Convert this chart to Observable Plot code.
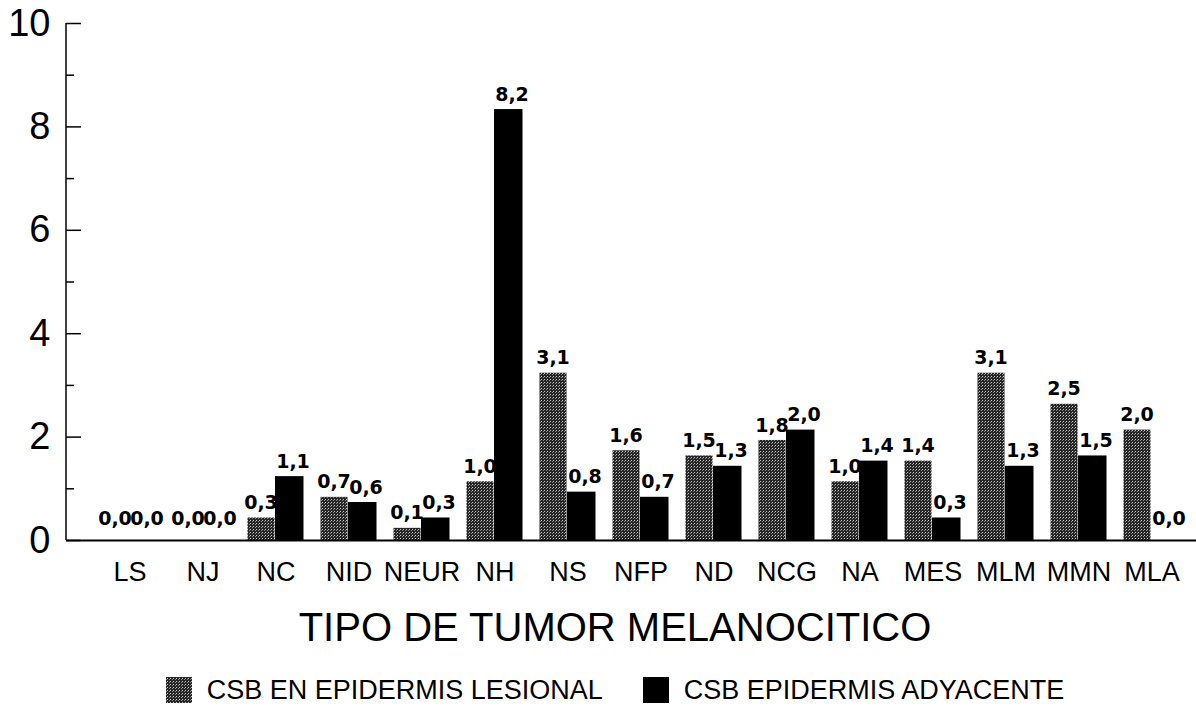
<!DOCTYPE html>
<html><head><meta charset="utf-8">
<script src="https://cdn.jsdelivr.net/npm/d3@7"></script>
<script src="https://cdn.jsdelivr.net/npm/@observablehq/plot@0.6"></script>
<style>
body{margin:0;background:#fff;font-family:"Liberation Sans",Arial,sans-serif;color:#000;}
#wrap{width:1196px;position:relative;}
#title{margin-left:66px;width:1098px;text-align:center;font-size:40px;line-height:44px;margin-top:5px;}
#legend{margin-left:66px;width:1098px;display:flex;justify-content:center;align-items:center;font-size:27px;line-height:30px;margin-top:26px;}
.sw{display:inline-block;width:26px;height:26px;margin-right:15px;}
.item{display:flex;align-items:center;margin:0 20px;}
</style></head><body><div id="wrap"></div>
<script>
const categories = ["LS","NJ","NC","NID","NEUR","NH","NS","NFP","ND","NCG","NA","MES","MLM","MMN","MLA"];
const series = ["CSB EN EPIDERMIS LESIONAL","CSB EPIDERMIS ADYACENTE"];
const lesional  = [0.0,0.0,0.3,0.7,0.1,1.0,3.1,1.6,1.5,1.8,1.0,1.4,3.1,2.5,2.0];
const adyacente = [0.0,0.0,1.1,0.6,0.3,8.2,0.8,0.7,1.3,2.0,1.4,0.3,1.3,1.5,0.0];
const yTicks = [0,2,4,6,8,10];
const yMinorTicks = [1,3,5,7,9];
const xTitle = "TIPO DE TUMOR MELANOCITICO";

const rowsL = categories.map((c, i) => ({cat: c, serie: series[0], value: lesional[i]}));
const rowsA = categories.map((c, i) => ({cat: c, serie: series[1], value: adyacente[i]}));
const fmt = v => d3.format(".1f")(v).replace(".", ",");

const patternSvg = `<pattern id="stipple" width="3" height="3" patternUnits="userSpaceOnUse"><rect width="3" height="3" fill="#262626"/><rect x="1" y="1" width="1" height="1" fill="#c8c8c8"/><rect x="0" y="2" width="1" height="1" fill="#8a8a8a"/></pattern>`;
const defs = () => {
  const d = d3.create("svg:defs");
  d.html(patternSvg);
  return d.node();
};
const labelStyle = {fontSize: 19, fontWeight: 900, fontFamily: "'DejaVu Sans', sans-serif", fill: "#000", letterSpacing: 2.5, dy: -22};

const chart = Plot.plot({
  width: 1196, height: 600,
  marginTop: 23, marginLeft: 66, marginRight: 0, marginBottom: 60,
  style: {fontFamily: "'Liberation Sans', Arial, sans-serif", color: "#000", background: "#fff"},
  x: {domain: categories, paddingInner: 0, paddingOuter: 0.156, align: 0.78, axis: null},
  y: {domain: [0, 10], axis: null},
  color: {domain: series, range: ["url(#stipple)", "#000"]},
  marks: [
    defs,
    Plot.axisX({tickSize: 0, tickPadding: 21, fontSize: 27, label: null}),
    Plot.axisY({ticks: yTicks, tickSize: 0, tickPadding: 16, fontSize: 38, label: null}),
    Plot.axisY({ticks: yTicks, tickSize: 15, dx: 15, tickFormat: () => "", label: null, strokeWidth: 1.5}),
    Plot.axisY({ticks: yMinorTicks, tickSize: 8, dx: 8, tickFormat: () => "", label: null, strokeWidth: 1.5}),
    Plot.barY(rowsL.filter(d => d.value > 0), {x: "cat", y: "value", fill: "serie", insetTop: -7, insetLeft: 8.5, insetRight: 37.5}),
    Plot.barY(rowsA.filter(d => d.value > 0), {x: "cat", y: "value", fill: "serie", insetTop: -7, insetLeft: 36, insetRight: 8.5}),
    Plot.ruleY([0], {strokeWidth: 2}),
    Plot.text(rowsL, {x: "cat", y: "value", text: d => fmt(d.value), ...labelStyle, dx: -15}),
    Plot.text(rowsA, {x: "cat", y: "value", text: d => fmt(d.value), ...labelStyle, dx: 17})
  ]
});
// vertical y-axis line, placed with the chart's own scales
const ys = chart.scale("y"), xs = chart.scale("x");
d3.select(chart).append("line")
  .attr("x1", xs.range[0]).attr("x2", xs.range[0])
  .attr("y1", ys.apply(ys.domain[0])).attr("y2", ys.apply(ys.domain[1]))
  .attr("stroke", "#000").attr("stroke-width", 1.5);

const wrap = document.getElementById("wrap");
wrap.appendChild(chart);
const t = document.createElement("div");
t.id = "title"; t.textContent = xTitle;
wrap.appendChild(t);
const lg = document.createElement("div");
lg.id = "legend";
series.forEach((s, i) => {
  const it = document.createElement("span"); it.className = "item";
  const sw = document.createElementNS("http://www.w3.org/2000/svg", "svg");
  sw.setAttribute("class", "sw"); sw.setAttribute("width", 26); sw.setAttribute("height", 26);
  sw.innerHTML = (i === 0 ? `<defs>${patternSvg.replace('id="stipple"','id="stipple2"')}</defs>` : "") +
    `<rect width="26" height="26" fill="${i === 0 ? "url(#stipple2)" : "#000"}"/>`;
  const tx = document.createElement("span"); tx.textContent = s;
  it.appendChild(sw); it.appendChild(tx); lg.appendChild(it);
});
wrap.appendChild(lg);
</script></body></html>
